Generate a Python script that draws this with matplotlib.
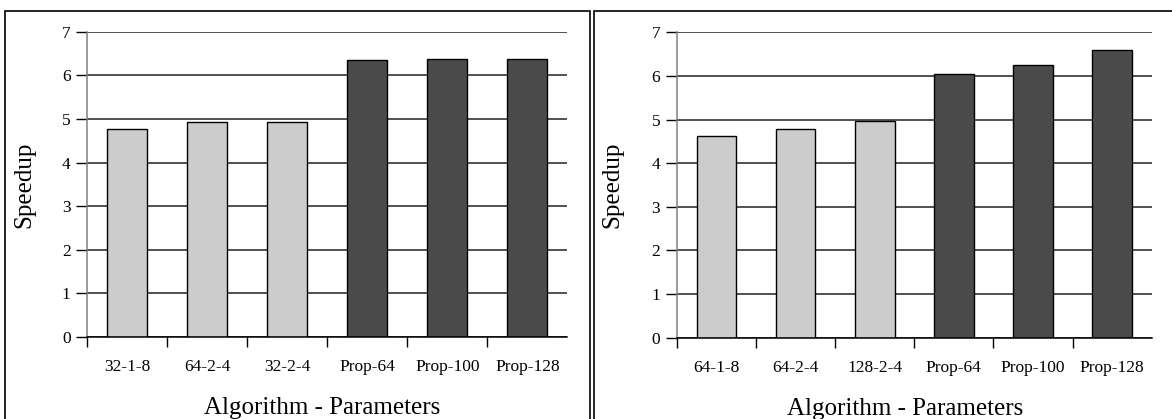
import numpy as np
import matplotlib
matplotlib.use('Agg')
import matplotlib.pyplot as plt
from matplotlib.patches import Rectangle

plt.rcParams['font.family'] = ['Liberation Serif', 'DejaVu Serif']

# data
labels_left = ['32-1-8', '64-2-4', '32-2-4', 'Prop-64', 'Prop-100', 'Prop-128']
speedup_left = [4.76, 4.92, 4.93, 6.35, 6.37, 6.38]
labels_right = ['64-1-8', '64-2-4', '128-2-4', 'Prop-64', 'Prop-100', 'Prop-128']
speedup_right = [4.63, 4.78, 4.97, 6.04, 6.24, 6.59]
bar_colors = ['#cccccc', '#cccccc', '#cccccc', '#4b4b4b', '#4b4b4b', '#4b4b4b']

W, H = 1172, 419
fig = plt.figure(figsize=(W / 100, H / 100), dpi=100)

# panel frames (pixels -> figure fraction)
for x0, x1 in [(5.3, 590.3), (594.3, 1185)]:
    fig.patches.append(Rectangle((x0 / W, -0.05), (x1 - x0) / W, 1.05 - 11 / H,
                                 transform=fig.transFigure, fill=False,
                                 edgecolor='black', linewidth=1.2))


def draw_panel(rect, labels, vals, ylab_x, xlab_x):
    ax = fig.add_axes(rect)
    x = np.arange(len(labels))
    ax.set_axisbelow(True)
    ax.yaxis.grid(True, color='#222222', linewidth=1.1)
    ax.bar(x, vals, width=0.5, color=bar_colors, edgecolor='black', linewidth=1)
    ax.set_xlim(-0.5, len(labels) - 0.5)
    ax.set_ylim(0, 7)
    ax.set_yticks(range(8))
    ax.set_xticks(x)
    ax.set_xticklabels(labels)
    ax.set_xticks(np.arange(-0.5, len(labels) - 1, 1.0), minor=True)
    ax.tick_params(axis='x', which='major', length=0, pad=16, labelsize=12.5)
    ax.tick_params(axis='x', which='minor', length=7, width=1, direction='out')
    ax.tick_params(axis='y', length=8, width=1, direction='out', pad=4, labelsize=12.5)
    for s in ['top', 'right']:
        ax.spines[s].set_visible(False)
    ax.spines['left'].set_color('#808080')
    ax.spines['left'].set_linewidth(1.1)
    ax.spines['bottom'].set_linewidth(1.1)
    ax.set_ylabel('Speedup', fontsize=18)
    ax.yaxis.set_label_coords(ylab_x, 0.5)
    ax.yaxis.label.set_va('center')
    ax.set_xlabel('Algorithm - Parameters', fontsize=18)
    ax.xaxis.set_label_coords(xlab_x, -0.232)
    ax.xaxis.label.set_va('center')
    return ax


draw_panel([87.3 / W, 1 - 337 / H, 480 / W, 305.3 / H],
           labels_left, speedup_left, -0.132, 0.49)
draw_panel([676.8 / W, 1 - 337.7 / H, 475 / W, 305.4 / H],
           labels_right, speedup_right, -0.136, 0.48)

plt.savefig('out.png', dpi=100)
